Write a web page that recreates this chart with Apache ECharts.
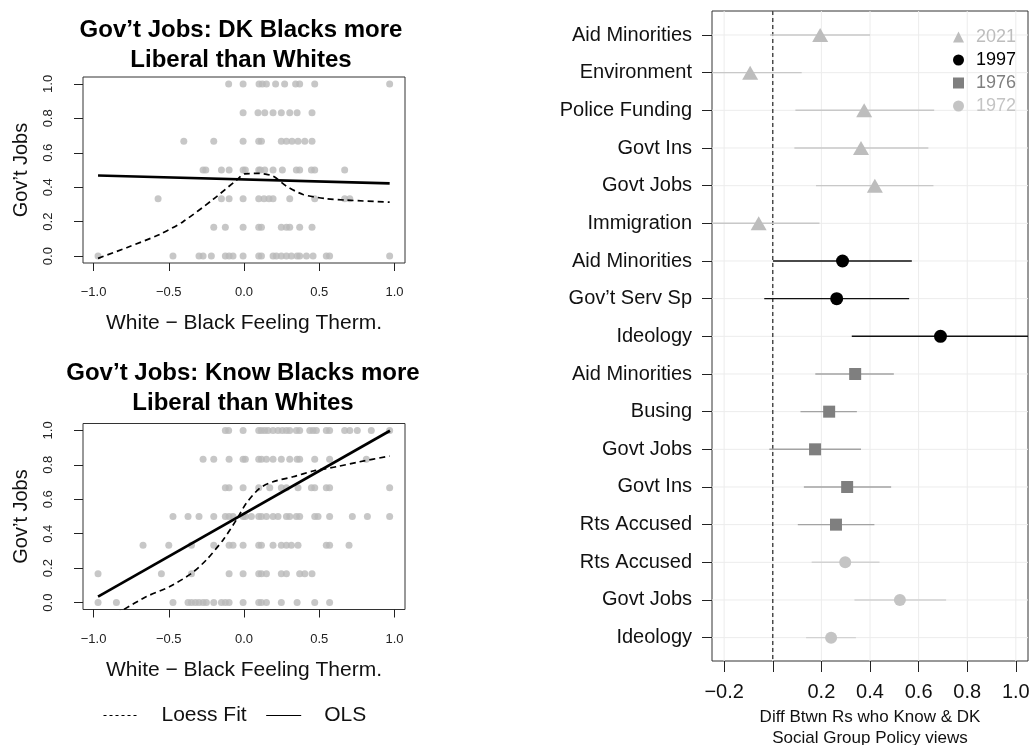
<!DOCTYPE html>
<html><head><meta charset="utf-8">
<script src="https://cdn.jsdelivr.net/npm/echarts@6/dist/echarts.min.js"></script>
<style>html,body{margin:0;padding:0;background:#fff}#c{width:1029px;height:745px}</style>
</head><body><div id="c"></div>
<script>
const FONT = "'Liberation Sans', Arial, Helvetica, sans-serif";

// ---------- Left panels: Gov't Jobs vs White - Black feeling thermometer ----------
const yLevels = [1, 0.833, 0.667, 0.5, 0.333, 0.167, 0];
const dkX = [
  [-0.102, -0.006, 0.10, 0.122, 0.149, 0.21, 0.27, 0.343, 0.37, 0.47, 0.968],
  [-0.006, 0.093, 0.138, 0.193, 0.248, 0.304, 0.353, 0.452],
  [-0.40, -0.201, -0.006, 0.098, 0.116, 0.248, 0.282, 0.319, 0.359, 0.404, 0.452],
  [-0.272, -0.254, -0.15, -0.099, -0.006, 0.009, 0.098, 0.109, 0.138, 0.193, 0.255, 0.348, 0.37, 0.448, 0.47, 0.669],
  [-0.571, -0.15, -0.099, -0.006, 0.098, 0.133, 0.166, 0.193, 0.304, 0.47, 0.669, 0.703],
  [-0.201, -0.124, -0.006, 0.098, 0.116, 0.248, 0.282, 0.304, 0.37, 0.452],
  [-0.97, -0.472, -0.299, -0.272, -0.217, -0.124, -0.099, -0.073, -0.006, 0.098, 0.116, 0.193, 0.215, 0.248, 0.282, 0.315, 0.353, 0.37, 0.415, 0.459, 0.547, 0.569, 0.968]
];
const knowX = [
  [-0.124, -0.102, -0.006, 0.098, 0.116, 0.138, 0.16, 0.193, 0.226, 0.255, 0.282, 0.304, 0.348, 0.37, 0.437, 0.459, 0.481, 0.547, 0.569, 0.669, 0.703, 0.753, 0.846, 0.968],
  [-0.272, -0.201, -0.099, -0.006, 0.009, 0.098, 0.116, 0.149, 0.193, 0.248, 0.304, 0.353, 0.37, 0.47, 0.569, 0.813],
  [-0.124, -0.099, -0.006, 0.098, 0.171, 0.248, 0.282, 0.359, 0.448, 0.47, 0.547, 0.569, 0.968],
  [-0.472, -0.372, -0.299, -0.201, -0.124, -0.099, -0.073, -0.006, 0.009, 0.049, 0.098, 0.116, 0.149, 0.193, 0.226, 0.282, 0.304, 0.348, 0.37, 0.47, 0.492, 0.569, 0.72, 0.82, 0.968],
  [-0.671, -0.50, -0.349, -0.201, -0.099, -0.073, -0.006, 0.098, 0.116, 0.193, 0.248, 0.282, 0.315, 0.359, 0.547, 0.569, 0.698],
  [-0.97, -0.549, -0.349, -0.099, -0.006, 0.098, 0.116, 0.149, 0.248, 0.282, 0.37, 0.404, 0.452],
  [-0.97, -0.848, -0.472, -0.372, -0.349, -0.323, -0.299, -0.272, -0.25, -0.201, -0.15, -0.124, -0.099, -0.006, 0.098, 0.116, 0.149, 0.248, 0.353, 0.47, 0.569]
];
const dkOls = [[-0.97, 0.468], [0.968, 0.422]];
const dkLoess = [[-0.97, -0.013], [-0.78, 0.049], [-0.56, 0.126], [-0.405, 0.20], [-0.206, 0.329], [-0.05, 0.441], [0.005, 0.478], [0.104, 0.48], [0.193, 0.464], [0.282, 0.406], [0.392, 0.358], [0.547, 0.333], [0.68, 0.325], [0.968, 0.313]];
const knowOls = [[-0.97, 0.035], [0.97, 0.998]];
const knowLoess = [[-0.97, -0.125], [-0.803, -0.042], [-0.648, 0.035], [-0.493, 0.093], [-0.349, 0.17], [-0.25, 0.248], [-0.139, 0.364], [-0.051, 0.48], [0.015, 0.577], [0.104, 0.664], [0.193, 0.702], [0.326, 0.731], [0.459, 0.764], [0.614, 0.789], [0.769, 0.818], [0.968, 0.851]];
const thermTicks = [-1, -0.5, 0, 0.5, 1];
const jobTicks = [0, 0.2, 0.4, 0.6, 0.8, 1];

// ---------- Right panel: differences by item and year ----------
const rowLabels = ['Aid Minorities', 'Environment', 'Police Funding', 'Govt Ins', 'Govt Jobs', 'Immigration',
  'Aid Minorities', 'Gov\u2019t Serv Sp', 'Ideology',
  'Aid Minorities', 'Busing', 'Govt Jobs', 'Govt Ins', 'Rts Accused',
  'Rts Accused', 'Govt Jobs', 'Ideology'];
const rowYear = ['2021', '2021', '2021', '2021', '2021', '2021', '1997', '1997', '1997', '1976', '1976', '1976', '1976', '1976', '1972', '1972', '1972'];
const rowEst = [0.195, -0.093, 0.376, 0.363, 0.42, -0.058, 0.287, 0.263, 0.69, 0.339, 0.232, 0.174, 0.306, 0.26, 0.298, 0.523, 0.24];
const rowLo  = [-0.011, -0.305, 0.093, 0.089, 0.178, -0.308, 0.001, -0.035, 0.325, 0.175, 0.114, -0.014, 0.128, 0.103, 0.16, 0.336, 0.137];
const rowHi  = [0.40, 0.119, 0.664, 0.64, 0.661, 0.192, 0.572, 0.561, 1.055, 0.498, 0.346, 0.363, 0.487, 0.418, 0.439, 0.713, 0.342];
const diffTicks = [-0.2, 0, 0.2, 0.4, 0.6, 0.8, 1.0];
const years = ['2021', '1997', '1976', '1972'];
const yearSymbol = {'2021': 'triangle', '1997': 'circle', '1976': 'rect', '1972': 'circle'};
const yearSize = {'2021': [16, 14], '1997': 13, '1976': 12, '1972': 12};
const yearColor = {'2021': '#bdbdbd', '1997': '#000000', '1976': '#7f7f7f', '1972': '#c4c4c4'};
const yearCIColor = {'2021': '#c8c8c8', '1997': '#111111', '1976': '#a3a3a3', '1972': '#d2d2d2'};

const fmtNum = v => (Math.abs(v) < 1e-9 ? 0 : v).toFixed(1).replace('-', '\u2212');
const rowIdx = rowLabels.map((_, i) => i);

function scatterData(xs) {
  const out = [];
  xs.forEach((row, i) => row.forEach(x => out.push([x, yLevels[i]])));
  return out;
}

function leftXAxis(gi) {
  return {
    gridIndex: gi, type: 'value', min: -1.07, max: 1.07,
    axisLine: {show: false, onZero: false},
    axisTick: {show: true, length: 8, customValues: thermTicks, lineStyle: {color: '#222'}},
    axisLabel: {customValues: thermTicks, formatter: fmtNum, margin: 23, fontSize: 13, color: '#222', fontFamily: FONT},
    splitLine: {show: false},
    name: 'White \u2212 Black Feeling Therm.', nameLocation: 'middle', nameGap: 50,
    nameTextStyle: {fontSize: 21, color: '#111', fontFamily: FONT}
  };
}
function leftYAxis(gi) {
  return {
    gridIndex: gi, type: 'value', min: -0.04, max: 1.04,
    axisLine: {show: false, onZero: false},
    axisTick: {show: true, length: 9, customValues: jobTicks, lineStyle: {color: '#222'}},
    axisLabel: {customValues: jobTicks, formatter: fmtNum, rotate: 90, margin: 28, fontSize: 13, color: '#222', fontFamily: FONT},
    splitLine: {show: false},
    name: 'Gov\u2019t Jobs', nameLocation: 'middle', nameGap: 52, nameRotate: 90,
    nameTextStyle: {fontSize: 20, color: '#111', fontFamily: FONT}
  };
}

const series = [];
[[dkX, dkOls, dkLoess], [knowX, knowOls, knowLoess]].forEach(([xs, ols, loess], gi) => {
  series.push({
    type: 'scatter', xAxisIndex: gi, yAxisIndex: gi, data: scatterData(xs),
    symbol: 'circle', symbolSize: 7, itemStyle: {color: '#b9b9b9'}, z: 2, silent: true
  });
  series.push({
    name: 'Loess Fit', type: 'line', xAxisIndex: gi, yAxisIndex: gi, data: loess,
    smooth: 0.25, symbol: 'none', clip: true, z: 3, color: '#000',
    itemStyle: {color: '#000'},
    lineStyle: {color: '#000', width: 1.7, type: [6, 4]}
  });
  series.push({
    name: 'OLS', type: 'line', xAxisIndex: gi, yAxisIndex: gi, data: ols,
    symbol: 'none', clip: true, z: 4, color: '#000',
    itemStyle: {color: '#000'},
    lineStyle: {color: '#000', width: 2.7, type: 'solid'}
  });
});

// Right panel background grid lines
series.push({
  type: 'custom', xAxisIndex: 2, yAxisIndex: 2, silent: true, z: 1, clip: true,
  data: diffTicks.map(v => [v]),
  encode: {x: 0},
  renderItem: (params, api) => {
    const cs = params.coordSys;
    const x = api.coord([api.value(0), 0])[0];
    return {type: 'line', shape: {x1: x, y1: cs.y, x2: x, y2: cs.y + cs.height}, style: {stroke: '#ececec', lineWidth: 1}};
  }
});
series.push({
  type: 'custom', xAxisIndex: 2, yAxisIndex: 2, silent: true, z: 1, clip: true,
  data: rowIdx.map(v => [0, v]),
  encode: {x: 0, y: 1},
  renderItem: (params, api) => {
    const cs = params.coordSys;
    const y = api.coord([0, api.value(1)])[1];
    return {type: 'line', shape: {x1: cs.x, y1: y, x2: cs.x + cs.width, y2: y}, style: {stroke: '#ececec', lineWidth: 1}};
  }
});
// zero reference (dashed)
series.push({
  type: 'custom', xAxisIndex: 2, yAxisIndex: 2, silent: true, z: 2, clip: true,
  data: [[0]],
  encode: {x: 0},
  renderItem: (params, api) => {
    const cs = params.coordSys;
    const x = api.coord([api.value(0), 0])[0];
    return {type: 'line', shape: {x1: x, y1: cs.y, x2: x, y2: cs.y + cs.height}, style: {stroke: '#333', lineWidth: 1.3, lineDash: [4, 3]}};
  }
});
// confidence intervals and point estimates per year
years.forEach(yr => {
  const ci = [], pts = [];
  rowYear.forEach((y, i) => {
    if (y === yr) { ci.push([rowLo[i], rowHi[i], i]); pts.push([rowEst[i], i]); }
  });
  series.push({
    name: 'CI ' + yr, type: 'custom', xAxisIndex: 2, yAxisIndex: 2, z: 3, clip: true, silent: true,
    data: ci, encode: {x: [0, 1], y: 2},
    itemStyle: {color: yearCIColor[yr]},
    renderItem: (params, api) => {
      const p1 = api.coord([api.value(0), api.value(2)]);
      const p2 = api.coord([api.value(1), api.value(2)]);
      return {type: 'line', shape: {x1: p1[0], y1: p1[1], x2: p2[0], y2: p2[1]}, style: {stroke: api.visual('color'), lineWidth: 1.4}};
    }
  });
  series.push({
    name: yr, type: 'scatter', xAxisIndex: 2, yAxisIndex: 2, z: 4, data: pts,
    symbol: yearSymbol[yr], symbolSize: yearSize[yr], itemStyle: {color: yearColor[yr], opacity: 1}
  });
});

const option = {
  backgroundColor: '#ffffff',
  animation: false,
  textStyle: {fontFamily: FONT},
  title: [
    {text: 'Gov\u2019t Jobs: DK Blacks more\nLiberal than Whites', left: 236, top: 10, textAlign: 'center',
     textStyle: {fontSize: 24, fontWeight: 'bold', color: '#000', lineHeight: 30, fontFamily: FONT}},
    {text: 'Gov\u2019t Jobs: Know Blacks more\nLiberal than Whites', left: 238, top: 353, textAlign: 'center',
     textStyle: {fontSize: 24, fontWeight: 'bold', color: '#000', lineHeight: 30, fontFamily: FONT}}
  ],
  grid: [
    {left: 83, top: 77, width: 322, height: 186, show: true, borderColor: '#333', borderWidth: 1, backgroundColor: 'transparent', containLabel: false, outerBoundsMode: 'none'},
    {left: 83, top: 423.5, width: 322, height: 186, show: true, borderColor: '#333', borderWidth: 1, backgroundColor: 'transparent', containLabel: false, outerBoundsMode: 'none'},
    {left: 712, top: 11, width: 316, height: 650, show: true, borderColor: '#333', borderWidth: 1, backgroundColor: 'transparent', containLabel: false, outerBoundsMode: 'none'}
  ],
  xAxis: [
    leftXAxis(0), leftXAxis(1),
    {
      gridIndex: 2, type: 'value', min: -0.25, max: 1.05,
      axisLine: {show: false, onZero: false},
      axisTick: {show: true, length: 11, customValues: diffTicks, lineStyle: {color: '#222'}},
      axisLabel: {customValues: diffTicks, formatter: v => (Math.abs(v) < 1e-9 ? '' : fmtNum(v)), margin: 21, fontSize: 20, color: '#111', fontFamily: FONT},
      splitLine: {show: false},
      name: 'Diff Btwn Rs who Know & DK\nSocial Group Policy views', nameLocation: 'middle', nameGap: 37,
      nameTextStyle: {fontSize: 17, color: '#111', lineHeight: 21, fontFamily: FONT}
    }
  ],
  yAxis: [
    leftYAxis(0), leftYAxis(1),
    {
      gridIndex: 2, type: 'value', inverse: true, min: -0.637, max: 16.62,
      axisLine: {show: false, onZero: false},
      axisTick: {show: true, length: 10, customValues: rowIdx, lineStyle: {color: '#222'}},
      axisLabel: {customValues: rowIdx, formatter: v => rowLabels[Math.round(v)], margin: 20, fontSize: 20, color: '#111', fontFamily: FONT},
      splitLine: {show: false}
    }
  ],
  legend: [
    {
      data: [
        {name: 'Loess Fit', itemStyle: {opacity: 0}, lineStyle: {type: [3, 3], width: 1, color: '#000'}},
        {name: 'OLS', itemStyle: {opacity: 0}, lineStyle: {type: 'solid', width: 1, color: '#000'}}
      ],
      left: 98, top: 700, orient: 'horizontal', itemWidth: 35, itemHeight: 14, itemGap: 19,
      selectedMode: false,
      textStyle: {fontSize: 21, color: '#111', padding: [0, 0, 0, 18], fontFamily: FONT}
    },
    {
      data: years.map(y => ({name: y, icon: yearSymbol[y], textStyle: {color: yearColor[y] === '#000000' ? '#000' : yearColor[y]}})),
      left: 948, top: 23, orient: 'vertical', itemWidth: 11, itemHeight: 11, itemGap: 5,
      selectedMode: false,
      textStyle: {fontSize: 18, lineHeight: 18, padding: [0, 0, 0, 7], fontFamily: FONT}
    }
  ],
  series: series
};

const chart = echarts.init(document.getElementById('c'), null, {renderer: 'canvas'});
chart.setOption(option);
</script>
</body></html>
